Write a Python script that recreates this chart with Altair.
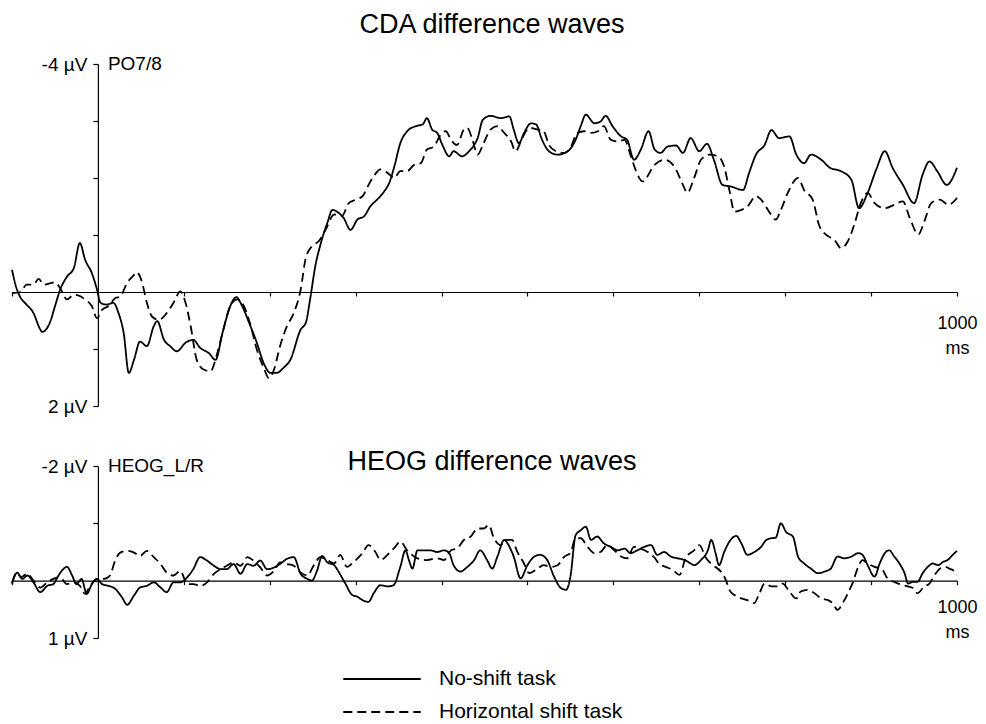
import altair as alt
import pandas as pd

SERIES = ["No-shift task", "Horizontal shift task"]
TIME_TICKS = list(range(-100, 1001, 100))
CDA_TICKS = [-4, -3, -2, -1, 0, 1, 2]
HEOG_TICKS = [-2, -1, 0, 1]

# ---- CDA (PO7/8) ----
cda_noshift_t = [-100, -96, -90, -85, -75, -67, -65, -56, -50, -44, -36, -28, -21, -15, -7, -1, 3, 10, 18, 24,
                 30, 36, 42, 49, 57, 65, 69, 77, 84, 92, 102, 111, 119, 129, 137, 145, 154, 161, 168, 176,
                 185, 193, 201, 208, 216, 224, 236, 242, 247, 253, 259, 267, 273, 280, 286, 294, 302, 310, 317, 325,
                 333, 339, 345, 352, 360, 370, 378, 383, 389, 395, 401, 409, 414, 424, 432, 438, 442, 448, 457, 469,
                 479, 484, 490, 496, 504, 510, 517, 525, 535, 547, 556, 562, 568, 578, 585, 591, 599, 609, 616, 624,
                 632, 641, 648, 655, 663, 673, 681, 690, 700, 709, 717, 727, 737, 751, 758, 766, 776, 784, 793, 805,
                 813, 822, 830, 842, 852, 865, 877, 886, 896, 906, 916, 925, 937, 950, 960, 968, 977, 988, 1000]
cda_noshift_v = [-0.39, -0.13, 0.10, 0.19, 0.37, 0.66, 0.70, 0.54, 0.25, -0.04, -0.27, -0.42, -0.86, -0.57, -0.33, -0.04, 0.19, 0.22, 0.19, 0.37,
                 0.72, 1.42, 1.19, 0.87, 0.95, 0.60, 0.51, 0.84, 0.95, 1.04, 0.89, 0.84, 0.98, 1.07, 1.19, 0.72, 0.25, 0.09, 0.25, 0.54,
                 0.89, 1.25, 1.42, 1.42, 1.33, 1.19, 0.66, 0.54, 0.13, -0.45, -0.83, -1.21, -1.44, -1.39, -1.30, -1.09, -1.27, -1.33, -1.50, -1.62,
                 -1.76, -1.91, -2.20, -2.61, -2.82, -2.91, -2.94, -3.05, -2.85, -2.79, -2.58, -2.38, -2.47, -2.38, -2.47, -2.58, -2.70, -3.02, -3.09, -3.05,
                 -3.08, -2.85, -2.61, -2.79, -2.96, -2.94, -2.67, -2.47, -2.41, -2.47, -2.67, -2.91, -3.11, -2.96, -2.99, -3.09, -2.91, -2.73, -2.67, -2.32,
                 -2.50, -2.82, -2.50, -2.44, -2.55, -2.57, -2.44, -2.70, -2.47, -2.60, -2.32, -1.88, -1.85, -1.79, -2.09, -2.41, -2.58, -2.84, -2.70, -2.73,
                 -2.41, -2.26, -2.41, -2.32, -2.18, -2.12, -1.97, -1.47, -1.74, -2.15, -2.47, -2.18, -1.88, -1.56, -2.06, -2.29, -2.12, -1.88, -2.18]

cda_shift_t = [-100, -90, -83, -75, -69, -63, -56, -50, -44, -36, -28, -23, -15, -7, -1, 5, 12, 20, 26, 34,
               42, 45, 51, 57, 63, 71, 80, 88, 96, 102, 108, 115, 123, 131, 139, 146, 154, 162, 170, 178,
               185, 193, 199, 205, 212, 220, 228, 236, 242, 249, 257, 265, 275, 284, 292, 300, 308, 314, 321, 329,
               337, 345, 352, 360, 368, 376, 383, 391, 399, 405, 411, 418, 426, 430, 436, 442, 449, 457, 465, 473,
               481, 486, 494, 502, 512, 519, 525, 533, 543, 550, 558, 566, 574, 582, 589, 597, 605, 613, 620, 627,
               634, 648, 660, 671, 681, 686, 694, 702, 712, 722, 729, 735, 741, 749, 756, 766, 772, 780, 789, 795,
               803, 815, 822, 832, 840, 850, 857, 865, 873, 881, 888, 896, 904, 916, 927, 937, 945, 955, 962, 970,
               980, 990, 1000]
cda_shift_v = [0.02, 0.0, -0.13, -0.13, -0.23, -0.13, -0.15, -0.17, -0.07, 0.13, 0.05, 0.06, 0.13, 0.25, 0.46, 0.31, 0.25, 0.11, 0.08, -0.16,
               -0.30, -0.35, -0.19, 0.19, 0.43, 0.49, 0.37, 0.19, -0.01, 0.19, 0.60, 1.19, 1.36, 1.39, 1.07, 0.66, 0.25, 0.13, 0.25, 0.60,
               1.01, 1.33, 1.51, 1.36, 0.95, 0.60, 0.37, -0.04, -0.60, -0.80, -0.89, -1.09, -1.36, -1.33, -1.56, -1.62, -1.68, -1.85, -2.03, -2.15,
               -2.09, -2.00, -2.12, -2.12, -2.23, -2.26, -2.50, -2.55, -2.76, -2.82, -2.67, -2.58, -2.85, -2.88, -2.67, -2.41, -2.61, -2.85, -2.91, -2.79,
               -2.64, -2.47, -2.70, -2.88, -2.85, -2.82, -2.58, -2.47, -2.44, -2.53, -2.79, -2.82, -2.79, -2.82, -2.91, -2.67, -2.64, -2.67, -2.40, -2.10,
               -1.94, -2.23, -2.32, -2.20, -1.88, -1.74, -2.00, -2.32, -2.41, -2.38, -2.20, -1.79, -1.41, -1.44, -1.50, -1.68, -1.62, -1.44, -1.27, -1.44,
               -1.74, -2.00, -1.79, -1.62, -1.15, -0.98, -0.92, -0.77, -0.89, -1.21, -1.56, -1.74, -1.56, -1.47, -1.53, -1.59, -1.30, -1.01, -1.24, -1.56,
               -1.62, -1.53, -1.65]

# ---- HEOG_L/R ----
heog_noshift_t = [-100, -94, -88, -82, -75, -67, -59, -52, -46, -36, -30, -25, -19, -13, -7, -1, 5, 12, 20, 28,
                  34, 42, 49, 57, 65, 73, 80, 88, 96, 104, 111, 119, 127, 135, 143, 150, 158, 166, 174, 181,
                  189, 197, 205, 212, 220, 228, 236, 244, 249, 255, 261, 267, 275, 280, 288, 296, 302, 308, 315, 321,
                  329, 337, 344, 352, 358, 362, 366, 372, 379, 387, 395, 403, 409, 414, 422, 430, 438, 445, 453, 459,
                  465, 473, 478, 484, 492, 500, 508, 515, 523, 531, 539, 545, 550, 556, 562, 568, 574, 581, 589, 597,
                  605, 613, 620, 628, 636, 644, 651, 659, 667, 675, 683, 690, 694, 702, 710, 714, 719, 723, 729, 735,
                  743, 749, 756, 764, 772, 778, 784, 789, 795, 801, 809, 815, 822, 830, 838, 846, 853, 861, 869, 877,
                  885, 890, 896, 904, 910, 916, 921, 927, 933, 939, 943, 949, 954, 960, 966, 972, 978, 984, 989, 995,
                  1000]
heog_noshift_v = [0.06, -0.14, -0.03, -0.09, 0.03, 0.20, 0.09, 0.06, -0.09, -0.24, -0.09, 0.06, -0.03, 0.23, 0.06, -0.03, 0.06, 0.09, 0.14, 0.29,
                  0.42, 0.26, 0.12, 0.09, 0.03, 0.12, 0.20, 0.03, 0.03, -0.06, -0.20, -0.41, -0.35, -0.26, -0.20, -0.20, -0.29, -0.12, -0.29, -0.26,
                  -0.35, -0.20, -0.23, -0.29, -0.38, -0.41, -0.12, -0.03, 0.0, -0.17, -0.43, -0.32, -0.27, -0.16, 0.05, 0.25, 0.28, 0.34, 0.37, 0.22,
                  0.08, 0.10, 0.08, -0.24, -0.53, -0.36, -0.21, -0.53, -0.53, -0.53, -0.50, -0.53, -0.48, -0.27, -0.16, -0.24, -0.36, -0.53, -0.36, -0.21,
                  -0.42, -0.71, -0.62, -0.42, -0.04, -0.27, -0.42, -0.45, -0.36, -0.07, 0.13, 0.16, -0.07, -0.79, -0.88, -0.94, -0.71, -0.77, -0.65, -0.59,
                  -0.53, -0.56, -0.48, -0.53, -0.59, -0.62, -0.45, -0.50, -0.42, -0.39, -0.36, -0.30, -0.27, -0.36, -0.53, -0.71, -0.48, -0.27, -0.50, -0.68,
                  -0.78, -0.65, -0.45, -0.50, -0.59, -0.71, -0.74, -0.75, -1.00, -0.85, -0.77, -0.42, -0.30, -0.21, -0.13, -0.16, -0.21, -0.42, -0.39, -0.42,
                  -0.48, -0.45, -0.27, -0.07, -0.30, -0.48, -0.53, -0.42, -0.30, -0.13, 0.05, 0.02, 0.02, -0.13, -0.24, -0.30, -0.27, -0.33, -0.36, -0.45,
                  -0.52]

heog_shift_t = [-100, -94, -90, -82, -75, -67, -59, -52, -44, -36, -28, -21, -15, -9, -1, 7, 14, 20, 26, 34,
                42, 49, 57, 65, 73, 80, 88, 96, 104, 111, 119, 127, 135, 143, 150, 158, 166, 174, 181, 189,
                197, 205, 212, 220, 228, 236, 244, 251, 259, 267, 275, 282, 290, 298, 308, 315, 323, 329, 337, 346,
                352, 360, 372, 383, 395, 403, 411, 418, 426, 434, 442, 449, 455, 461, 469, 475, 482, 488, 496, 502,
                510, 519, 527, 535, 543, 550, 556, 562, 570, 578, 585, 593, 601, 609, 616, 624, 632, 640, 648, 653,
                661, 669, 677, 684, 694, 700, 708, 716, 725, 731, 735, 741, 749, 756, 764, 770, 776, 784, 791, 797,
                805, 813, 818, 826, 834, 842, 850, 855, 861, 867, 873, 879, 885, 890, 896, 904, 912, 919, 927, 935,
                943, 949, 954, 962, 968, 974, 980, 986, 991, 997, 1000]
heog_shift_v = [0.03, -0.14, -0.06, -0.12, 0.0, 0.12, 0.03, -0.03, -0.06, 0.06, 0.03, 0.09, 0.23, 0.09, -0.03, -0.03, -0.09, -0.35, -0.49, -0.52,
                -0.49, -0.43, -0.52, -0.41, -0.29, -0.14, -0.09, -0.17, 0.06, 0.06, 0.09, 0.03, -0.12, -0.20, -0.26, -0.32, -0.26, -0.41, -0.35, -0.23,
                -0.09, -0.17, -0.32, -0.29, -0.26, -0.14, -0.09, -0.26, -0.41, -0.36, -0.30, -0.45, -0.24, -0.33, -0.48, -0.62, -0.50, -0.36, -0.45, -0.59,
                -0.68, -0.53, -0.39, -0.36, -0.39, -0.36, -0.53, -0.56, -0.71, -0.77, -0.91, -0.91, -0.97, -0.74, -0.62, -0.71, -0.71, -0.51, -0.30, -0.13,
                -0.19, -0.27, -0.24, -0.27, -0.42, -0.48, -0.74, -0.74, -0.59, -0.48, -0.50, -0.62, -0.53, -0.42, -0.39, -0.59, -0.56, -0.50, -0.40, -0.30,
                -0.24, -0.19, -0.10, -0.39, -0.53, -0.62, -0.39, -0.27, -0.16, -0.01, 0.16, 0.25, 0.31, 0.34, 0.39, 0.22, 0.05, 0.10, 0.10, 0.05,
                0.19, 0.31, 0.19, 0.16, 0.22, 0.31, 0.34, 0.39, 0.51, 0.39, 0.22, 0.02, -0.24, -0.36, -0.30, -0.24, -0.21, -0.04, 0.02, 0.07,
                0.10, 0.13, 0.22, 0.10, 0.05, -0.10, -0.21, -0.24, -0.21, -0.16, -0.10]


def frame(t, v, name):
    return pd.DataFrame({"t": t, "v": v, "series": name})


cda = pd.concat([frame(cda_noshift_t, cda_noshift_v, SERIES[0]),
                 frame(cda_shift_t, cda_shift_v, SERIES[1])], ignore_index=True)
heog = pd.concat([frame(heog_noshift_t, heog_noshift_v, SERIES[0]),
                  frame(heog_shift_t, heog_shift_v, SERIES[1])], ignore_index=True)

FONT = "Liberation Sans"
W = 945
X0 = 100 / 1100 * W  # pixel position of t = 0 from the left of the plot

dash_scale = alt.Scale(domain=SERIES, range=[[1, 0], [9, 5]])


def panel(df, ymin, ymax, ticks, height, channel, title, title_y, legend, ms_pad):
    zero_from_bottom = height * (ymax - 0) / (ymax - ymin)
    x = alt.X(
        "t:Q",
        scale=alt.Scale(domain=[-100, 1000], nice=False, zero=False),
        axis=alt.Axis(
            values=TIME_TICKS, offset=-zero_from_bottom, tickSize=4, grid=False, title=None,
            labelExpr="datum.value == 1000 ? ['1000', 'ms'] : ''",
            labelFont=FONT, labelFontSize=18, labelColor="black", labelPadding=ms_pad,
            labelLineHeight=25, labelFlush=False, labelOverlap=False,
            domainColor="black", tickColor="black", domainWidth=1.2, tickWidth=1.2,
        ),
    )
    lab_min = f"{ymin} µV"
    lab_max = f"{ymax} µV"
    y = alt.Y(
        "v:Q",
        scale=alt.Scale(domain=[ymin, ymax], reverse=True, nice=False, zero=False),
        axis=alt.Axis(
            values=ticks, offset=-X0, tickSize=5, grid=False, title=None,
            labelExpr=f"datum.value == {ymin} ? '{lab_min}' : (datum.value == {ymax} ? '{lab_max}' : '')",
            labelFont=FONT, labelFontSize=19, labelColor="black", labelPadding=6,
            labelFlush=False, labelOverlap=False,
            domainColor="black", tickColor="black", domainWidth=1.2, tickWidth=1.2,
        ),
    )
    lines = alt.Chart(df).mark_line(color="black", strokeWidth=1.8, interpolate="monotone").encode(
        x=x, y=y,
        strokeDash=alt.StrokeDash("series:N", scale=dash_scale, legend=legend),
    )
    chan = alt.Chart(pd.DataFrame({"t": [0], "v": [ymin], "label": [channel]})).mark_text(
        align="left", baseline="middle", dx=10, font=FONT, fontSize=19, color="black"
    ).encode(x=x, y=y, text="label:N")
    ttl = alt.Chart(pd.DataFrame({"label": [title]})).mark_text(
        align="center", baseline="middle", font=FONT, fontSize=27, color="black"
    ).encode(x=alt.value(480), y=alt.value(title_y), text="label:N")
    return alt.layer(lines, chan, ttl).properties(width=W, height=height)


legend = alt.Legend(
    orient="none", legendX=330, legendY=203, title=None, direction="vertical",
    symbolType="stroke", symbolSize=6000, symbolStrokeWidth=1.8, symbolStrokeColor="black",
    labelFont=FONT, labelFontSize=21, labelColor="black", labelOffset=17, labelLimit=0,
    clipHeight=20, rowPadding=12, padding=0,
)

top = panel(cda, -4, 2, CDA_TICKS, 342, "PO7/8", "CDA difference waves", -39, None, 18)
bottom = panel(heog, -2, 1, HEOG_TICKS, 172, "HEOG_L/R", "HEOG difference waves", -4, legend, 14)

chart = alt.VConcatChart(vconcat=[top, bottom], spacing=60, bounds="flush").resolve_legend(
    strokeDash="independent"
).properties(
    padding={"left": 0, "top": 3, "right": 0, "bottom": 0},
    autosize=alt.AutoSizeParams(type="pad"),
).configure_view(stroke=None)

chart.save("out.html", embed_options={"renderer": "svg", "actions": False})
